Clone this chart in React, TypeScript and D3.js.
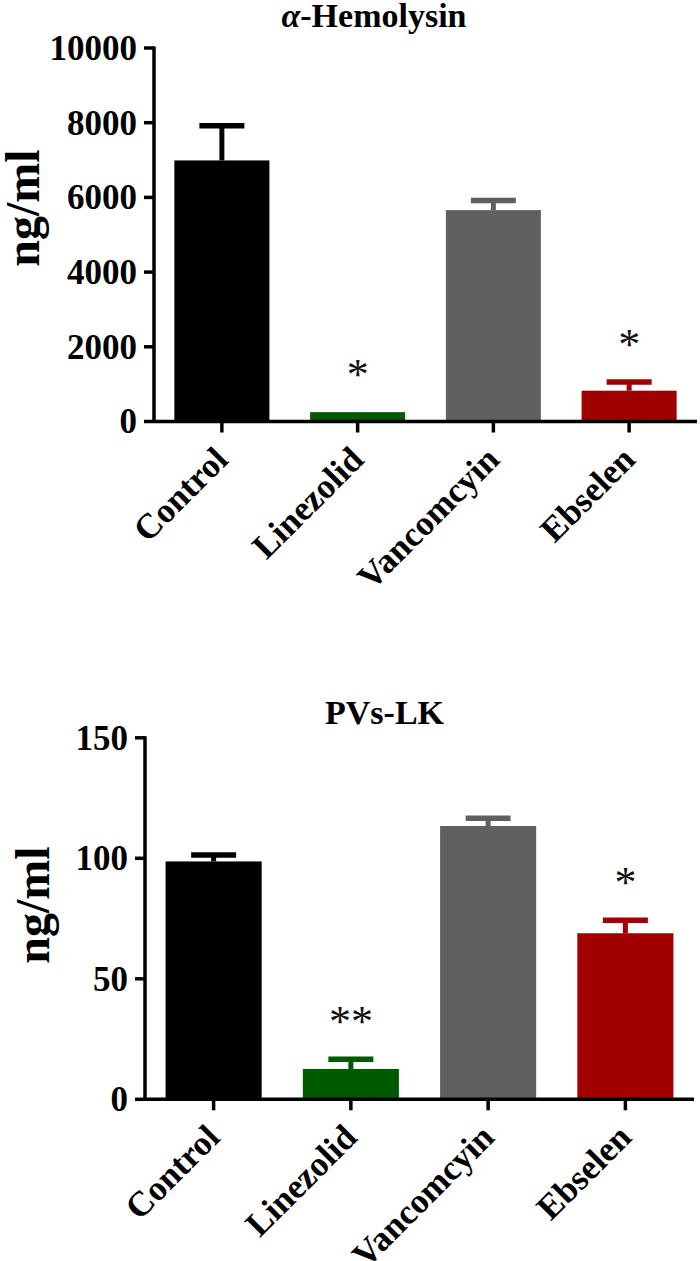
import React, { useRef, useEffect } from "react";
import { select, scaleBand, scaleLinear } from "d3";

// groups and colours (same in both panels)
const categories = ["Control", "Linezolid", "Vancomcyin", "Ebselen"];
const barColors = ["#000000", "#005a00", "#606060", "#a00000"];

// alpha-hemolysin panel
const hemolysinMeans = [6990, 250, 5660, 825];
const hemolysinErrors = [925, 0, 260, 230];
const hemolysinSig = ["", "*", "", "*"];
const hemolysinTicks = [0, 2000, 4000, 6000, 8000, 10000];

// PVL panel
const pvlMeans = [98.7, 12.6, 113.4, 68.9];
const pvlErrors = [2.7, 4.0, 3.2, 5.4];
const pvlSig = ["", "**", "", "*"];
const pvlTicks = [0, 50, 100, 150];

const FONT = "'Liberation Serif', 'Times New Roman', serif";

function drawPanel(svg, p) {
  const g = svg.append("g");

  const x = scaleBand().domain(categories).range([p.left, p.right]).paddingInner(0.3).paddingOuter(0.15);
  const y = scaleLinear().domain([0, p.max]).range([p.bottom, p.top]);

  // bars
  g.selectAll(".bar")
    .data(p.means)
    .join("rect")
    .attr("class", "bar")
    .attr("x", (d, i) => x(categories[i]))
    .attr("width", x.bandwidth())
    .attr("y", (d) => y(d))
    .attr("height", (d) => y(0) - y(d))
    .attr("fill", (d, i) => barColors[i]);

  // error bars (upper only)
  const capW = 45;
  p.means.forEach((m, i) => {
    if (!p.errors[i]) return;
    const cx = x(categories[i]) + x.bandwidth() / 2;
    g.append("line")
      .attr("x1", cx).attr("x2", cx)
      .attr("y1", y(m)).attr("y2", y(m + p.errors[i]))
      .attr("stroke", barColors[i]).attr("stroke-width", 5);
    g.append("line")
      .attr("x1", cx - capW / 2).attr("x2", cx + capW / 2)
      .attr("y1", y(m + p.errors[i])).attr("y2", y(m + p.errors[i]))
      .attr("stroke", barColors[i]).attr("stroke-width", 5.5);
  });

  // significance stars
  g.selectAll(".sig")
    .data(p.sig)
    .join("text")
    .attr("class", "sig")
    .attr("x", (d, i) => x(categories[i]) + x.bandwidth() / 2)
    .attr("y", (d, i) => y(p.means[i] + p.errors[i]) - 23)
    .attr("text-anchor", "middle")
    .attr("font-family", FONT)
    .attr("font-size", 44)
    .attr("fill", "#111")
    .text((d) => d);

  // y axis
  g.append("line")
    .attr("x1", p.left).attr("x2", p.left)
    .attr("y1", y(p.max) - 1.5).attr("y2", p.bottom + 1.5)
    .attr("stroke", "#000").attr("stroke-width", 3.5);
  g.selectAll(".ytick")
    .data(p.ticks)
    .join("line")
    .attr("class", "ytick")
    .attr("x1", p.left - 10).attr("x2", p.left)
    .attr("y1", (d) => y(d)).attr("y2", (d) => y(d))
    .attr("stroke", "#000").attr("stroke-width", 3.5);
  g.selectAll(".ylab")
    .data(p.ticks)
    .join("text")
    .attr("class", "ylab")
    .attr("x", p.left - 17)
    .attr("y", (d) => y(d))
    .attr("dy", "0.34em")
    .attr("text-anchor", "end")
    .attr("font-family", FONT)
    .attr("font-weight", "bold")
    .attr("font-size", 35)
    .text((d) => d);

  // x axis
  g.append("line")
    .attr("x1", p.left).attr("x2", p.right)
    .attr("y1", p.bottom).attr("y2", p.bottom)
    .attr("stroke", "#000").attr("stroke-width", 3.5);
  g.selectAll(".xtick")
    .data(categories)
    .join("line")
    .attr("class", "xtick")
    .attr("x1", (d) => x(d) + x.bandwidth() / 2)
    .attr("x2", (d) => x(d) + x.bandwidth() / 2)
    .attr("y1", p.bottom).attr("y2", p.bottom + 11)
    .attr("stroke", "#000").attr("stroke-width", 3.5);
  g.selectAll(".xlab")
    .data(categories)
    .join("text")
    .attr("class", "xlab")
    .attr("transform", (d) => `translate(${x(d) + x.bandwidth() / 2 + 8},${p.bottom + 40}) rotate(-45)`)
    .attr("text-anchor", "end")
    .attr("font-family", FONT)
    .attr("font-weight", "bold")
    .attr("font-size", 35)
    .text((d) => d);

  // y title
  g.append("text")
    .attr("transform", `translate(${p.ylabX},${p.ylabY}) rotate(-90)`)
    .attr("text-anchor", "middle")
    .attr("font-family", FONT)
    .attr("font-weight", "bold")
    .attr("font-size", 48)
    .text("ng/ml");

  // panel title
  const t = g.append("text")
    .attr("x", p.titleX)
    .attr("y", p.titleY)
    .attr("text-anchor", "middle")
    .attr("font-family", FONT)
    .attr("font-weight", "bold")
    .attr("font-size", 34);
  if (p.titleItalic) t.append("tspan").attr("font-style", "italic").text(p.titleItalic);
  t.append("tspan").text(p.title);
}

export default function App() {
  const ref = useRef(null);

  useEffect(() => {
    const svg = select(ref.current);
    svg.selectAll("*").remove();

    drawPanel(svg, {
      means: hemolysinMeans, errors: hemolysinErrors, sig: hemolysinSig, ticks: hemolysinTicks,
      max: 10000, left: 154, right: 697, top: 48, bottom: 421.5,
      titleItalic: "α", title: "-Hemolysin", titleX: 374, titleY: 27,
      ylabX: 39, ylabY: 208,
    });
    drawPanel(svg, {
      means: pvlMeans, errors: pvlErrors, sig: pvlSig, ticks: pvlTicks,
      max: 150, left: 145, right: 694, top: 737.8, bottom: 1099.3,
      titleItalic: "", title: "PVs-LK", titleX: 384.5, titleY: 724,
      ylabX: 49, ylabY: 905,
    });
  }, []);

  return (
    <svg
      ref={ref}
      width={700}
      height={1261}
      style={{ position: "absolute", left: 0, top: 0, background: "#fff" }}
    />
  );
}
